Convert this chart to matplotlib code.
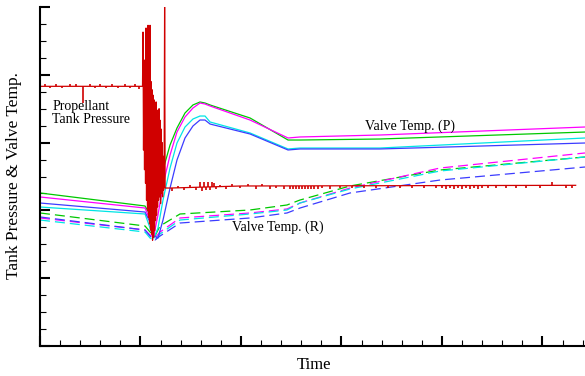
import numpy as np
import matplotlib
matplotlib.use("Agg")
import matplotlib.pyplot as plt
from matplotlib.ticker import MultipleLocator

plt.rcParams["font.family"] = ["Liberation Serif", "DejaVu Serif"]

# ---- propellant tank pressure (red) ----
# steady part before / after the event
press_pre_t = [0.0, 1.02]
press_pre_v = [3.83, 3.83]
press_post_t = [1.245, 1.30, 2.00, 5.33]
press_post_v = [2.33, 2.33, 2.36, 2.37]
# sampled every 0.005 during the transient
press_burst_t = np.round(np.arange(1.025, 1.2451, 0.005), 3)
press_burst_v = [4.63, 2.89, 4.10, 2.60, 4.22, 2.40, 4.69, 2.15, 4.40, 2.00,
                 4.73, 1.90, 4.20, 1.80, 4.73, 1.71, 3.90, 1.65, 3.78, 1.56,
                 3.70, 1.60, 3.63, 1.70, 3.55, 1.85, 3.60, 1.93, 3.48, 2.05,
                 3.40, 2.15, 3.50, 2.20, 3.33, 2.10, 3.20, 2.25, 3.00, 2.20,
                 2.80, 2.30, 2.60, 5.00, 2.33]

# small sensor glitches on the pressure trace (time, offset)
glitch_t = [0.05, 0.10, 0.16, 0.22, 0.30, 0.36, 0.43, 0.50, 0.55, 0.60, 0.66,
            0.72, 0.78, 0.85, 0.90, 0.95, 0.99,
            1.313, 1.373, 1.433, 1.493, 1.552, 1.592, 1.612, 1.632, 1.652, 1.672,
            1.692, 1.711, 1.731, 1.751, 1.791, 1.851, 1.910, 1.990, 2.070, 2.149,
            2.209, 2.289, 2.348, 2.428, 2.488, 2.517, 2.547, 2.577, 2.607, 2.637,
            2.667, 2.697, 2.726, 2.766, 2.806, 2.886, 2.985, 3.104, 3.224, 3.343,
            3.463, 3.582, 3.701, 3.821, 3.940, 4.000, 4.040, 4.080, 4.119, 4.159,
            4.199, 4.239, 4.279, 4.318, 4.358, 4.398, 4.458, 4.537, 4.637, 4.736,
            4.836, 4.975, 5.095, 5.234, 5.290]
glitch_dv = [0.03, -0.03, 0.03, -0.03, 0.03, 0.03, -0.25, 0.03, -0.03, 0.03, -0.03,
             0.03, -0.03, 0.03, -0.03, 0.03, -0.04,
             -0.04, 0.03, -0.03, 0.03, -0.04, 0.07, -0.05, 0.08, -0.05, 0.07,
             -0.05, 0.07, 0.05, -0.04, 0.03, -0.04, 0.03, -0.03, 0.03, -0.04,
             0.03, -0.04, -0.03, -0.04, -0.05, -0.04, -0.05, -0.04, -0.05, -0.04,
             -0.05, -0.04, -0.05, -0.04, -0.03, -0.04, -0.03, -0.04, -0.03, -0.04,
             -0.04, -0.03, -0.04, -0.04, -0.03, -0.04, -0.05, -0.04, -0.05, -0.04,
             -0.05, -0.04, -0.05, -0.04, -0.05, -0.04, -0.04, -0.04, -0.04, -0.04,
             -0.04, -0.04, 0.05, -0.04, -0.04]

# ---- valve temperatures, pressurant side (solid) ----
p_t = [0.0, 1.045, 1.095, 1.134, 1.174, 1.224, 1.294, 1.363, 1.443, 1.522, 1.592,
       1.642, 1.692, 2.090, 2.468, 2.587, 3.383, 5.423]
p_green = [2.257, 2.065, 1.932, 1.785, 2.301, 2.596, 2.965, 3.215, 3.437, 3.555,
           3.599, 3.584, 3.555, 3.363, 3.038, 3.038, 3.053, 3.156]
p_magenta = [2.198, 2.035, 1.858, 1.637, 1.932, 2.375, 2.817, 3.156, 3.378, 3.510,
             3.584, 3.569, 3.540, 3.333, 3.068, 3.083, 3.112, 3.230]
p_cyan = [2.050, 1.947, 1.740, 1.593, 1.740, 2.153, 2.625, 2.994, 3.230, 3.348,
          3.392, 3.392, 3.304, 3.142, 2.906, 2.920, 2.920, 3.068]
p_blue = [2.109, 1.976, 1.829, 1.622, 1.593, 1.858, 2.330, 2.743, 3.068, 3.245,
          3.333, 3.333, 3.274, 3.127, 2.891, 2.906, 2.906, 2.994]

# ---- valve temperatures, return side (dashed) ----
r_t = [0.0, 1.045, 1.095, 1.144, 1.194, 1.393, 2.090, 2.458, 2.587, 3.085, 3.980, 5.423]
r_green = [1.962, 1.770, 1.681, 1.622, 1.770, 1.947, 2.006, 2.080, 2.153, 2.360, 2.596, 2.788]
r_magenta = [1.888, 1.711, 1.637, 1.593, 1.681, 1.888, 1.962, 2.021, 2.109, 2.330, 2.625, 2.847]
r_cyan = [1.858, 1.681, 1.593, 1.563, 1.652, 1.858, 1.947, 2.006, 2.109, 2.316, 2.581, 2.788]
r_blue = [1.903, 1.711, 1.622, 1.563, 1.622, 1.814, 1.888, 1.962, 2.035, 2.257, 2.448, 2.640]

colors = {"magenta": "#ff00ff", "green": "#00c800", "cyan": "#00e5e5", "blue": "#3c3cff"}
red = "#d00000"

fig = plt.figure(figsize=(5.85, 3.76), dpi=100)
ax = fig.add_axes([40 / 585, 1 - 346 / 376, 545 / 585, 339 / 376])

lw = 0.9
ax.plot(r_t, r_green, color=colors["green"], lw=lw, dashes=(8, 4))
ax.plot(r_t, r_magenta, color=colors["magenta"], lw=lw, dashes=(8, 4))
ax.plot(r_t, r_cyan, color=colors["cyan"], lw=lw, dashes=(8, 4))
ax.plot(r_t, r_blue, color=colors["blue"], lw=lw, dashes=(8, 4))

ax.plot(p_t, p_cyan, color=colors["cyan"], lw=lw)
ax.plot(p_t, p_blue, color=colors["blue"], lw=lw)
ax.plot(p_t, p_green, color=colors["green"], lw=lw)
ax.plot(p_t, p_magenta, color=colors["magenta"], lw=lw)

press_t = press_pre_t + list(press_burst_t) + press_post_t[1:]
press_v = press_pre_v + press_burst_v + press_post_v[1:]
ax.plot(press_t, press_v, color=red, lw=0.9)
base = np.interp(glitch_t, press_t, press_v)
ax.vlines(glitch_t, base, base + np.array(glitch_dv), color=red, lw=1.2)

ax.text(0.12, 3.63, "Propellant\nTank Pressure", fontsize=10, va="top", ha="left",
        linespacing=1.05)
ax.text(3.682, 3.245, "Valve Temp. (P)", fontsize=10, ha="center", va="center")
ax.text(2.368, 1.755, "Valve Temp. (R)", fontsize=10, ha="center", va="center")

ax.set_xlim(0, 5.423)
ax.set_ylim(0, 5)
ax.spines["top"].set_visible(False)
ax.spines["right"].set_visible(False)
ax.spines["left"].set_linewidth(1.5)
ax.spines["bottom"].set_linewidth(1.5)
ax.xaxis.set_major_locator(MultipleLocator(1))
ax.xaxis.set_minor_locator(MultipleLocator(0.2))
ax.yaxis.set_major_locator(MultipleLocator(1))
ax.yaxis.set_minor_locator(MultipleLocator(0.25))
ax.tick_params(which="both", direction="in", labelbottom=False, labelleft=False)
ax.tick_params(which="major", length=7, width=1.5)
ax.tick_params(which="minor", length=4, width=0.8)

fig.text(14 / 585, 1 - 176 / 376, "Tank Pressure & Valve Temp.", fontsize=12.5,
         rotation=90, ha="center", va="center")
fig.text(314 / 585, 1 - 365 / 376, "Time", fontsize=12, ha="center", va="center")

fig.savefig("out.png", dpi=100)
